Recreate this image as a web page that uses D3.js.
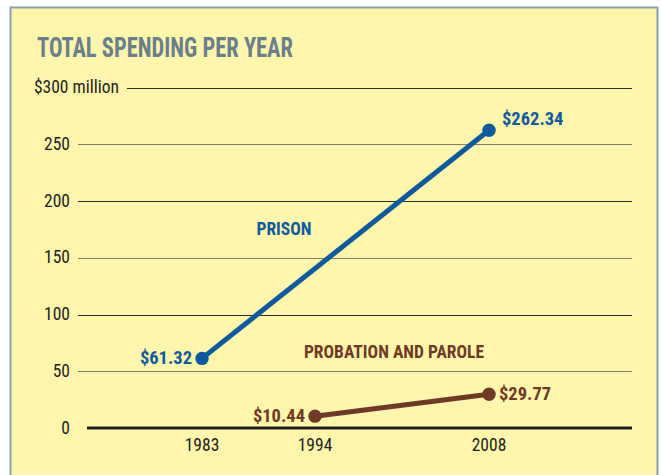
<!DOCTYPE html>
<html>
<head>
<meta charset="utf-8">
<script src="https://cdn.jsdelivr.net/npm/d3@7"></script>
<style>
  html, body { margin: 0; padding: 0; background: #ffffff; }
  svg { display: block; }
  text { font-family: "Liberation Sans Narrow", "Roboto Condensed", "Arial Narrow", "Liberation Sans", sans-serif; }
</style>
</head>
<body>
<svg id="chart" width="662" height="475"></svg>
<script>
const years = [1983, 1994, 2008];
const prisonYears = [1983, 2008];
const prisonValues = [61.32, 262.34];
const paroleYears = [1994, 2008];
const paroleValues = [10.44, 29.77];
const yTicks = [0, 50, 100, 150, 200, 250, 300];
const yTickLabels = ["0", "50", "100", "150", "200", "250", "$300 million"];

const svg = d3.select("#chart");

svg.append("rect").attr("x", 10.5).attr("y", 7.5).attr("width", 647).attr("height", 480)
  .attr("fill", "#fff6ad").attr("stroke", "#8a9fa8").attr("stroke-width", 2);

svg.append("text").attr("x", 37).attr("y", 57)
  .attr("fill", "#6b7f8b").attr("font-size", 28.5).attr("font-weight", "bold")
  .attr("textLength", 256).attr("lengthAdjust", "spacingAndGlyphs")
  .text("TOTAL SPENDING PER YEAR");

const x = d3.scaleLinear().domain(years).range([202, 315, 489]);
const y = d3.scaleLinear().domain([0, 300]).range([428, 87.5]);

const grid = svg.append("g");
yTicks.forEach((t, i) => {
  const yy = Math.round(y(t)) + 0.5;
  if (t === 0) {
    grid.append("line").attr("x1", 87).attr("x2", 632).attr("y1", y(t)).attr("y2", y(t))
      .attr("stroke", "#231f20").attr("stroke-width", 3);
  } else {
    grid.append("line").attr("x1", t === 300 ? 127 : 78).attr("x2", 632).attr("y1", yy).attr("y2", yy)
      .attr("stroke", t % 100 === 0 ? "#2e2b28" : "#857d66").attr("stroke-width", 1.2);
  }
  grid.append("text")
    .attr("x", t === 300 ? 119 : 70)
    .attr("y", y(t) + 5.5)
    .attr("text-anchor", "end")
    .attr("font-size", 17.5)
    .attr("fill", "#231f20")
    .text(yTickLabels[i]);
});

svg.append("g").selectAll("text").data(years).join("text")
  .attr("x", d => x(d)).attr("y", 451)
  .attr("text-anchor", "middle").attr("font-size", 17.5).attr("fill", "#231f20")
  .text(d => d);

const line = d3.line().x(d => x(d[0])).y(d => y(d[1]));

function series(ys, vs, color) {
  const pts = ys.map((d, i) => [d, vs[i]]);
  svg.append("path").datum(pts).attr("d", line)
    .attr("fill", "none").attr("stroke", color).attr("stroke-width", 5);
  svg.append("g").selectAll("circle").data(pts).join("circle")
    .attr("cx", d => x(d[0])).attr("cy", d => y(d[1])).attr("r", 6.7).attr("fill", color);
  return pts;
}

const blue = "#0f5a9c", brown = "#6e3a25";
const pp = series(prisonYears, prisonValues, blue);
const bp = series(paroleYears, paroleValues, brown);

function valLabel(d, color, anchor, dx, dy) {
  svg.append("text")
    .attr("x", x(d[0]) + dx).attr("y", y(d[1]) + dy)
    .attr("text-anchor", anchor).attr("font-size", 18.5).attr("font-weight", "bold")
    .attr("fill", color).text("$" + d[1].toFixed(2));
}
valLabel(pp[0], blue, "end", -10, 5.5);
valLabel(pp[1], blue, "start", 13, -5.5);
valLabel(bp[0], brown, "end", -10, 5.5);
valLabel(bp[1], brown, "start", 10, 5.5);

svg.append("text").attr("x", 284).attr("y", 235).attr("text-anchor", "middle")
  .attr("font-size", 17.5).attr("font-weight", "bold").attr("fill", blue).text("PRISON");
svg.append("text").attr("x", 394).attr("y", 358).attr("text-anchor", "middle")
  .attr("font-size", 17.5).attr("font-weight", "bold").attr("fill", brown).text("PROBATION AND PAROLE");
</script>
</body>
</html>
